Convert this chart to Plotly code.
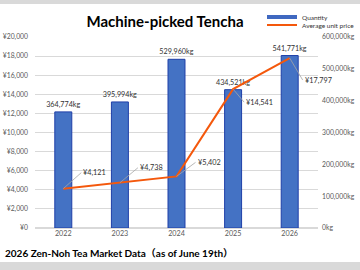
import plotly.graph_objects as go

years = ["2022", "2023", "2024", "2025", "2026"]
quantity_kg = [364774, 395994, 529960, 434521, 541771]
avg_price_yen = [4121, 4738, 5402, 14541, 17797]
qty_labels = ["364,774kg", "395,994kg", "529,960kg", "434,521kg", "541,771kg"]
price_labels = ["¥4,121", "¥4,738", "¥5,402", "¥14,541", "¥17,797"]
label_offsets = [(18, -16), (18, -15), (19, -14), (11, 13), (13, 22)]

FONT = "Lato, 'Noto Sans CJK JP', sans-serif"
L, R, T, B = 35, 42, 37, 42
PH = 270 - T - B
PW = 360 - L - R

def py(pix):
    return (270 - B - pix) / PH

def px(pix):
    return (pix - L) / PW

fig = go.Figure()
fig.add_trace(go.Bar(
    x=years, y=quantity_kg, name="Quantity", yaxis="y", showlegend=False,
    marker=dict(color="#4472C4", line=dict(color="#1F3FA8", width=1)),
    text=qty_labels, textposition="outside", cliponaxis=False, constraintext="none",
    textfont=dict(size=7.2, color="#333333", family=FONT),
))
# legend key for the bars (no data drawn)
fig.add_trace(go.Scatter(
    x=[None], y=[None], name="Quantity", yaxis="y", legend="legend",
    mode="lines", line=dict(color="#3F68C0", width=4),
))
fig.add_trace(go.Scatter(
    x=years, y=avg_price_yen, name="Average unit price", yaxis="y2", legend="legend2",
    mode="lines", line=dict(color="#F4580C", width=2),
))

annotations = []
for i, (v, lab, (ax, ay)) in enumerate(zip(avg_price_yen, price_labels, label_offsets)):
    annotations.append(dict(
        x=i, y=v, xref="x", yref="y2", text=lab, showarrow=True,
        arrowhead=0, arrowwidth=0.8, arrowcolor="#A6A6A6",
        ax=ax, ay=ay, xanchor="left", yanchor="middle",
        font=dict(size=7.3, color="#333333", family=FONT),
    ))
annotations.append(dict(
    text="<b>2026 Zen-Noh Tea Market Data（as of June 19th）</b>",
    xref="paper", yref="paper", x=px(3), y=py(253), xanchor="left", yanchor="middle",
    showarrow=False, font=dict(size=10, color="#000000", family=FONT),
))

shapes = [
    dict(type="rect", xref="paper", yref="paper", x0=px(0), x1=px(360), y0=py(0), y1=py(4),
         fillcolor="#D9D9D9", line=dict(width=0), layer="below"),
    dict(type="rect", xref="paper", yref="paper", x0=px(0), x1=px(360), y0=py(262), y1=py(270),
         fillcolor="#D9D9D9", line=dict(width=0), layer="below"),
]

legend_common = dict(xanchor="left", yanchor="middle", bgcolor="rgba(0,0,0,0)",
                     font=dict(size=6.5, color="#333333", family=FONT), itemwidth=30,
                     borderwidth=0)

tickf = dict(size=6.8, color="#595959", family=FONT)

fig.update_layout(
    width=360, height=270,
    margin=dict(l=L, r=R, t=T, b=B, autoexpand=False),
    paper_bgcolor="white", plot_bgcolor="white",
    font=dict(family=FONT, size=8, color="#595959"),
    title=dict(text="<b>Machine-picked Tencha</b>", x=165/360, xanchor="center",
               xref="container", y=1 - 22/270, yref="container", yanchor="middle",
               font=dict(size=15, color="#000000", family=FONT)),
    bargap=0.7,
    showlegend=True,
    legend=dict(x=px(262), y=py(17), **legend_common),
    legend2=dict(x=px(262), y=py(25), **legend_common),
    xaxis=dict(type="category", range=[-0.5, 4.5], autorange=False, showgrid=False,
               showline=False, ticks="", automargin=False,
               tickfont=dict(size=7.2, color="#595959", family=FONT)),
    yaxis=dict(side="right", range=[0, 600000], autorange=False, dtick=100000, tickformat=",",
               ticksuffix="kg", showgrid=False, zeroline=False, showline=False,
               automargin=False, ticklabelstandoff=3, tickfont=tickf),
    yaxis2=dict(side="left", overlaying="y", range=[0, 20000], autorange=False, dtick=2000,
                tickformat=",", tickprefix="¥", showgrid=True, gridcolor="#D9D9D9",
                gridwidth=1, zeroline=True, zerolinecolor="#D9D9D9", showline=False,
                automargin=False, ticklabelstandoff=6, tickfont=tickf),
    annotations=annotations,
    shapes=shapes,
)

fig.write_html("out.html")
